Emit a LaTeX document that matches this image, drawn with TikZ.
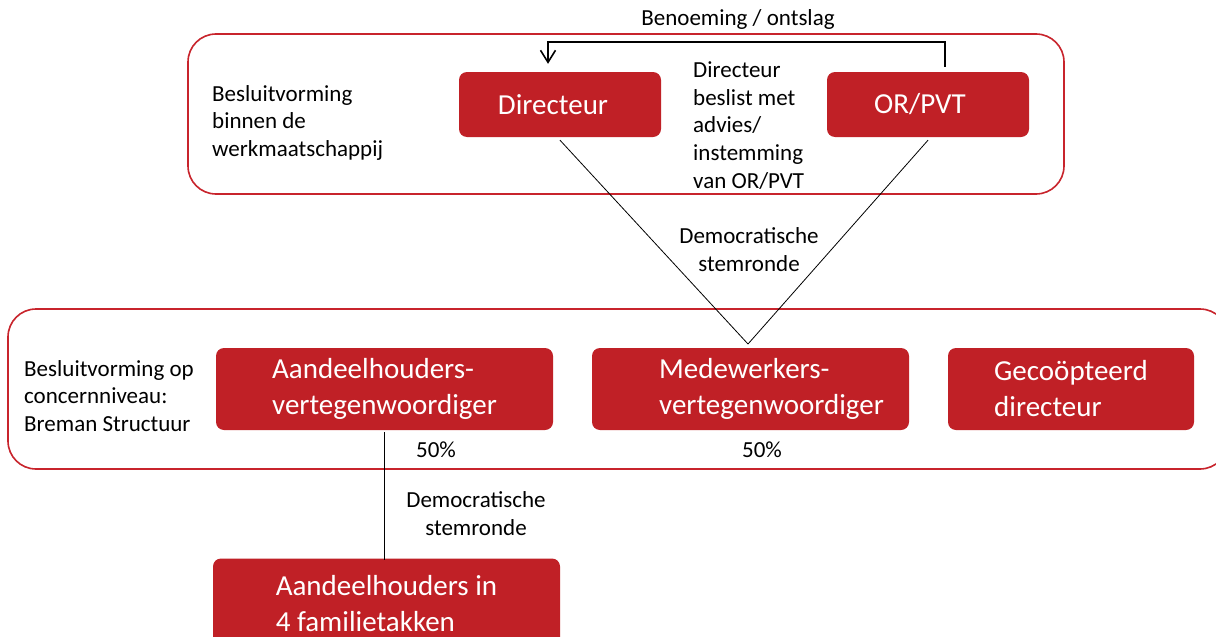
\documentclass[tikz,border=0pt]{standalone}
\usepackage{fontspec}
\setmainfont{Carlito}
\usepackage{tikz}
\usetikzlibrary{arrows.meta,positioning,calc}
\definecolor{BoxRed}{HTML}{C02026}
\definecolor{FrameRed}{HTML}{C8242C}
\newcommand{\lblfont}{\fontsize{23}{27.7}\selectfont}
\newcommand{\boxfont}{\fontsize{29}{36}\selectfont}

\begin{document}
\begin{tikzpicture}[x=1pt,y=-1pt,
  box/.style={fill=BoxRed,text=white,rounded corners=8pt,font=\boxfont,
    align=left,inner sep=0pt},
  group/.style={draw=FrameRed,line width=1.6pt,rounded corners=28pt},
  lbl/.style={font=\lblfont,align=left,inner sep=0pt},
  thinline/.style={line width=0.8pt,black},
  arrow/.style={-{Straight Barb[length=12pt,width=15pt]},line width=1.6pt,black}]
  \path[use as bounding box,clip] (0,0) rectangle (1216,637);
  \fill[white] (0,0) rectangle (1216,637);

  % groepen
  \draw[group] (188,34) rectangle (1064,194);
  \draw[group] (8,309) rectangle (1228,469);

  % werkmaatschappij
  \node[box,minimum width=202pt,minimum height=65pt] (dir) at (560,104.5)
    {Directeur\hspace*{14pt}};
  \node[box,minimum width=202pt,minimum height=65pt] (orpvt) at (928,104.5)
    {OR/PVT\hspace*{16pt}};
  \node[lbl,anchor=north west] (lwm) at (212,85)
    {Besluitvorming\\binnen de\\werkmaatschappij};
  \node[lbl,anchor=north west] (ladv) at (693,61.5)
    {Directeur\\beslist met\\advies/\\instemming\\van OR/PVT};
  \node[lbl] (lben) at (738,19) {Benoeming / ontslag};
  \draw[arrow] ([xshift=17pt,yshift=5pt]orpvt.north) -- ++(0,-25)
    -| ([xshift=-12pt,yshift=8pt]dir.north);

  % concern
  \node[box,minimum width=337pt,minimum height=82pt] (aand) at (384.5,389)
    {Aandeelhouders-\\vertegenwoordiger};
  \node[box,minimum width=317pt,minimum height=82pt] (med) at (750.5,389)
    {\hspace*{42pt}Medewerkers-\\\hspace*{42pt}vertegenwoordiger};
  \node[box,minimum width=246pt,minimum height=82pt] (gecoop) at (1071,389)
    {Gecoöpteerd\\directeur};
  \node[lbl,anchor=north west] (lcon) at (24,360)
    {Besluitvorming op\\concernniveau:\\Breman Structuur};
  \node[lbl] (p1) at (436,450) {50\%};
  \node[lbl] (p2) at (762,450) {50\%};

  \coordinate (meet) at (748,344);
  \draw[thinline] ([yshift=-3pt]dir.south) -- (meet);
  \draw[thinline] ([yshift=-3pt]orpvt.south) -- (meet);
  \node[lbl,align=center,anchor=north] (ldem1) at (749,227.5)
    {Democratische\\stemronde};

  % familie
  \node[box,minimum width=347pt,minimum height=91pt] (fam) at (386.5,604)
    {Aandeelhouders in\\4 familietakken};
  \draw[thinline] ([yshift=-2pt]aand.south) -- ([yshift=-2pt]aand.south |- fam.north);
  \node[lbl,align=center,anchor=north] (ldem2) at (476,491.5)
    {Democratische\\stemronde};
\end{tikzpicture}
\end{document}
